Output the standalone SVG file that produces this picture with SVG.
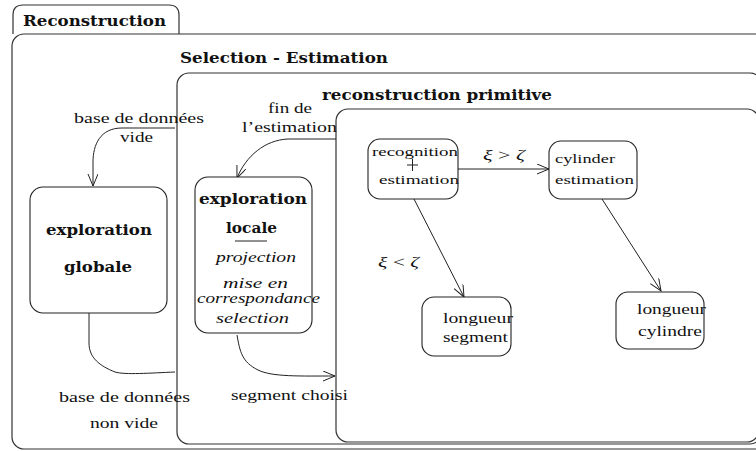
<svg xmlns="http://www.w3.org/2000/svg" width="756" height="451" viewBox="0 0 756 451" font-family="Liberation Serif, serif">
<style>
.box{fill:none;stroke:#333;stroke-width:1.2}
.node{fill:#fff;stroke:#222;stroke-width:1.1}
.ln{fill:none;stroke:#222;stroke-width:1}
.t{font-family:'Liberation Serif',serif;fill:#111}
.b{font-family:'DejaVu Serif',serif;font-weight:bold;font-size:14px;fill:#111}
.r{font-family:'Liberation Serif',serif;font-size:15.5px;fill:#111}
.s{font-family:'Liberation Serif',serif;font-size:12.5px;fill:#111}
.i{font-family:'Liberation Serif',serif;font-style:italic;font-size:14.5px;fill:#111}
</style>
<defs>
<marker id="ah" markerWidth="14" markerHeight="12" refX="12" refY="5" orient="auto" markerUnits="userSpaceOnUse">
<path d="M0,0 L12,5 L0,10" fill="none" stroke="#222" stroke-width="1"/>
</marker>
</defs>
<rect width="756" height="451" fill="#fff"/>
<g id="frames">
<path class="box" d="M13,34 V15 Q13,5 23,5 H169 Q179,5 179,15 V34"/>
<rect class="box" x="12" y="34" width="760" height="415" rx="12"/>
<rect class="box" x="177" y="73" width="585" height="371" rx="12"/>
<rect class="box" x="336" y="109" width="423" height="333" rx="12"/>
<text class="b" x="23" y="26" textLength="143" lengthAdjust="spacingAndGlyphs">Reconstruction</text>
<text class="b" x="180" y="63" textLength="208" lengthAdjust="spacingAndGlyphs">Selection - Estimation</text>
<text class="b" x="322" y="100" textLength="230" lengthAdjust="spacingAndGlyphs">reconstruction primitive</text>
</g>
<g id="connectors">
<path class="ln" d="M175,128 H122 C100,128 93,145 93,162 V186" marker-end="url(#ah)"/>
<path class="ln" d="M336,139 H288 C265,140 246,156 237,178" marker-end="url(#ah)"/>
<path class="ln" d="M89,311 V343 C89,358 100,366 115,372 C125,375 150,373 175,372"/>
<path class="ln" d="M237,335 C240,352 242,362 258,370 C272,377 300,376 335,376" marker-end="url(#ah)"/>
<path class="ln" d="M458,169 H549" marker-end="url(#ah)"/>
<path class="ln" d="M414,199 L464,297" marker-end="url(#ah)"/>
<path class="ln" d="M602,199 L661,291" marker-end="url(#ah)"/>
<text class="r" x="74" y="123" textLength="130" lengthAdjust="spacingAndGlyphs">base de données</text>
<text class="r" x="120" y="142" textLength="33" lengthAdjust="spacingAndGlyphs">vide</text>
<text class="r" x="268" y="113" textLength="44" lengthAdjust="spacingAndGlyphs">fin de</text>
<text class="r" x="242" y="132" textLength="95" lengthAdjust="spacingAndGlyphs">l’estimation</text>
<text class="r" x="59" y="402" textLength="131" lengthAdjust="spacingAndGlyphs">base de données</text>
<text class="r" x="90" y="428" textLength="68" lengthAdjust="spacingAndGlyphs">non vide</text>
<text class="r" x="231" y="400" textLength="117" lengthAdjust="spacingAndGlyphs">segment choisi</text>
<text class="r" x="483" y="160" textLength="42" lengthAdjust="spacingAndGlyphs"><tspan font-style="italic">ξ</tspan> &gt; <tspan font-style="italic">ζ</tspan></text>
<text class="r" x="378" y="267" textLength="41" lengthAdjust="spacingAndGlyphs"><tspan font-style="italic">ξ</tspan> &lt; <tspan font-style="italic">ζ</tspan></text>
</g>
<g id="exploration-globale">
<rect class="node" x="30" y="187" width="137" height="126" rx="13"/>
<text class="b" x="46" y="235" textLength="106" lengthAdjust="spacingAndGlyphs">exploration</text>
<text class="b" x="64" y="272" textLength="68" lengthAdjust="spacingAndGlyphs">globale</text>
</g>
<g id="exploration-locale">
<rect class="node" x="195" y="177" width="117" height="156" rx="13"/>
<text class="b" x="199" y="204" textLength="108" lengthAdjust="spacingAndGlyphs">exploration</text>
<text class="b" x="226" y="233" textLength="51" lengthAdjust="spacingAndGlyphs">locale</text>
<line class="ln" x1="235" y1="241" x2="267" y2="241"/>
<text class="i" x="216" y="262" textLength="80" lengthAdjust="spacingAndGlyphs">projection</text>
<text class="i" x="223" y="288" textLength="65" lengthAdjust="spacingAndGlyphs">mise en</text>
<text class="i" x="197" y="303" textLength="123" lengthAdjust="spacingAndGlyphs">correspondance</text>
<text class="i" x="216" y="323" textLength="73" lengthAdjust="spacingAndGlyphs">selection</text>
</g>
<g id="recognition">
<rect class="node" x="368" y="139" width="90" height="60" rx="12"/>
<text class="s" x="372" y="156" textLength="86" lengthAdjust="spacingAndGlyphs">recognition</text>
<line class="ln" x1="407" y1="165" x2="418" y2="165"/>
<line class="ln" x1="412.5" y1="159" x2="412.5" y2="171"/>
<text class="s" x="379" y="184" textLength="80" lengthAdjust="spacingAndGlyphs">estimation</text>
</g>
<g id="cylinder-estimation">
<rect class="node" x="549" y="141" width="88" height="58" rx="12"/>
<text class="s" x="555" y="163" textLength="60" lengthAdjust="spacingAndGlyphs">cylinder</text>
<text class="s" x="555" y="184" textLength="79" lengthAdjust="spacingAndGlyphs">estimation</text>
</g>
<g id="longueur-segment">
<rect class="node" x="422" y="297" width="89" height="59" rx="12"/>
<text class="r" x="443" y="323" textLength="70" lengthAdjust="spacingAndGlyphs">longueur</text>
<text class="r" x="443" y="342" textLength="65" lengthAdjust="spacingAndGlyphs">segment</text>
</g>
<g id="longueur-cylindre">
<rect class="node" x="616" y="292" width="88" height="57" rx="12"/>
<text class="r" x="637" y="314" textLength="69" lengthAdjust="spacingAndGlyphs">longueur</text>
<text class="r" x="638" y="336" textLength="64" lengthAdjust="spacingAndGlyphs">cylindre</text>
</g>
</svg>
